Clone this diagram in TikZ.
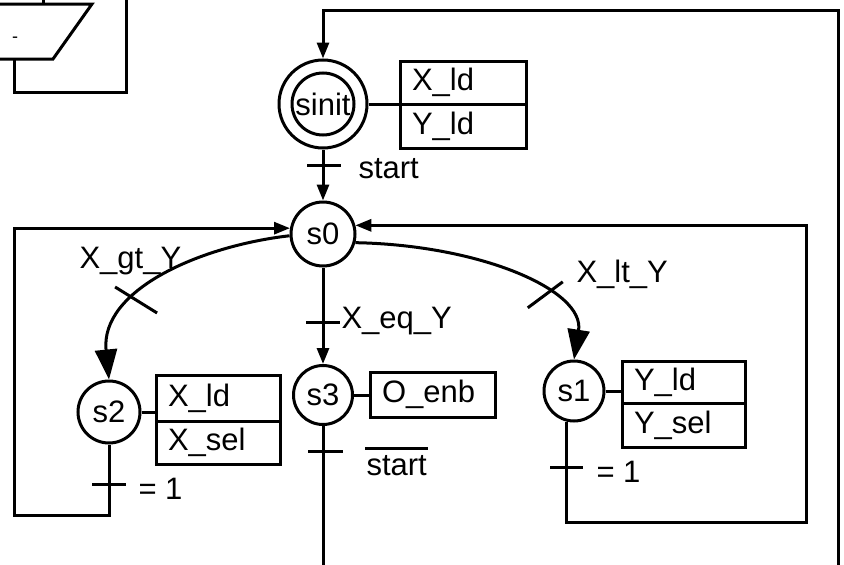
\documentclass[tikz,border=0pt]{standalone}
\usepackage{fontspec}
\setmainfont{Liberation Sans}
\usetikzlibrary{arrows.meta,calc}
\begin{document}
\begin{tikzpicture}[x=1pt,y=-1pt,line width=3pt,
  font=\fontsize{31}{36}\selectfont,
  st/.style={draw,circle,inner sep=0pt,minimum size=#1},
  abox/.style={draw,rectangle,inner xsep=12pt,inner ysep=0pt,align=left},
  lbl/.style={inner sep=0pt,anchor=base west},
  sarr/.style={-{Triangle[length=16pt,width=12pt]}},
  barr/.style={-{Triangle[length=30pt,width=22pt]}}]
\useasboundingbox (0,0) rectangle (844,565);
\clip (0,0) rectangle (844,565);
% fragment at top left
\draw (-10,4) -- (92,4) -- (53,59) -- (-10,59);
\node[font=\fontsize{18}{20}\selectfont,inner sep=0pt] (dash) at (15,40) {-};
\draw (14,59) |- (126,92) -- (126,-10);
\draw (43,4) -- (43,-10);
% steps
\node[st=62] (sinit) at (323,104) {sinit};
\node[st=88] (sinitO) at (323,104) {};
\node[st=64] (s0) at (323,234) {s0};
\node[st=62] (s2) at (109,412) {s2};
\node[st=59] (s3) at (323,395) {s3};
\node[st=60] (s1) at (574,391) {s1};
% action boxes
\node[abox,text width=102pt,minimum height=43pt] (aX1) at (463,82.5) {X\_ld};
\node[abox,text width=102pt,minimum height=44pt] (aY1) at (463,126) {Y\_ld};
\node[abox,text width=100pt,minimum height=46pt] (s2a) at (218,398) {X\_ld};
\node[abox,text width=100pt,minimum height=43pt] (s2b) at (218,442.5) {X\_sel};
\node[abox,text width=101pt,minimum height=45pt] (s3a) at (432.5,394.5) {O\_enb};
\node[abox,text width=99pt,minimum height=42pt] (s1a) at (683.5,382) {Y\_ld};
\node[abox,text width=99pt,minimum height=44pt] (s1b) at (683.5,425) {Y\_sel};
\draw (sinitO.east) -- (sinitO.east -| aX1.west);
\draw (s2.east) -- (s2.east -| s2a.west);
\draw (s3.east) -- (s3.east -| s3a.west);
\draw (s1.east) -- (s1.east -| s1a.west);
% sinit -> s0
\draw[sarr] (sinitO.south) -- (s0.north);
\coordinate (t0) at (323,165);
\draw ([xshift=-16pt]t0) -- ([xshift=18pt]t0);
\node[lbl] (l0) at (357,178) {start};
% s0 -> s3
\draw[sarr] (s0.south) -- (s3.north);
\coordinate (t3) at (323,322);
\draw ([xshift=-17pt]t3) -- ([xshift=17pt]t3);
\node[lbl] (leq) at (340,328) {X\_eq\_Y};
% s0 -> s2
\draw[barr] (s0.183) .. controls (200,246) and (100,290) .. (s2.north) coordinate[pos=0.64] (tg);
\draw ([shift={(-21,-13)}]tg) -- ([shift={(21,13)}]tg);
\node[lbl] (lgt) at (78,268) {X\_gt\_Y};
% s0 -> s1
\draw[barr] (s0.-15) .. controls (480,245) and (585,290) .. (s1.north) coordinate[pos=0.64] (tl);
\draw ([shift={(-17.5,13)}]tl) -- ([shift={(17.5,-13)}]tl);
\node[lbl] (llt) at (575,282) {X\_lt\_Y};
% s2 loop
\coordinate (lb) at (14,515);
\draw[sarr] (s2.south) |- (lb) |- (s0.170);
\coordinate (t2) at (109,484);
\draw ([xshift=-17pt]t2) -- ([xshift=17pt]t2);
\node[lbl] (l2) at (137,499) {= 1};
% s1 loop
\coordinate (rb) at (806,522);
\draw[sarr] (s1.257) |- (rb) |- (s0.15);
\coordinate (t1) at (567,467);
\draw ([xshift=-17pt]t1) -- ([xshift=16pt]t1);
\node[lbl] (l1) at (595,482) {= 1};
% s3 out
\coordinate (bot) at (0,575);
\draw (s3.south) -- (s3.south |- bot);
\coordinate (t4) at (323,451);
\draw ([xshift=-15pt]t4) -- ([xshift=20pt]t4);
\node[lbl] (l3) at (365,475) {start};
\draw ([yshift=27pt]l3.base west) -- ([yshift=27pt]l3.base east);
% long loop back to sinit
\coordinate (br) at (838,575);
\coordinate (top) at (0,10);
\draw[sarr] (br) |- (sinitO.north |- top) -- (sinitO.north);
\end{tikzpicture}
\end{document}
